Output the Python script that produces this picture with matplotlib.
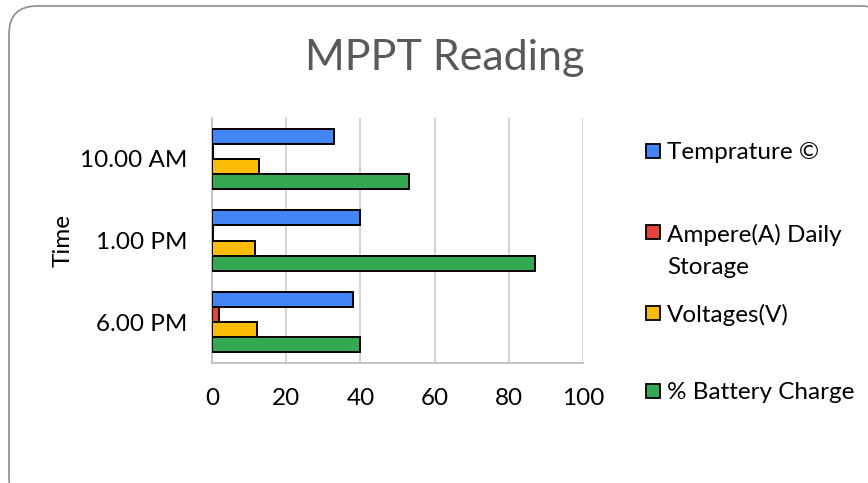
import numpy as np
import matplotlib.pyplot as plt
from matplotlib.patches import FancyBboxPatch, Rectangle

plt.rcParams['font.family'] = ['Lato', 'DejaVu Sans']

times = ['10.00 AM', '1.00 PM', '6.00 PM']
temperature = [33, 40, 38]
ampere = [0.2, 0.3, 1.9]
voltage = [12.7, 11.6, 12.2]
battery = [53, 87, 40]

labels = ['Temprature ©', 'Ampere(A) Daily\nStorage', 'Voltages(V)', '% Battery Charge']
colors = ['#4285F4', '#EA4335', '#FBBC04', '#34A853']

W, H = 868, 483
fig = plt.figure(figsize=(W / 100, H / 100), dpi=100)

# background axes in pixel units, used for the rounded frame
bg = fig.add_axes([0, 0, 1, 1], zorder=-1)
bg.set_xlim(0, W)
bg.set_ylim(H, 0)
bg.axis('off')
bg.add_patch(FancyBboxPatch((9, 6), 880, 500,
                            boxstyle='round,pad=0,rounding_size=28',
                            facecolor='white', edgecolor='#8c8c8c', linewidth=1.2))

ax = fig.add_axes([212 / W, 1 - 363 / H, 371 / W, 245 / H])
ax.set_facecolor('none')

y = np.arange(len(times))[::-1]
h = 0.184
series = [temperature, ampere, voltage, battery]
offsets = [1.5, 0.5, -0.5, -1.5]
for vals, off, c in zip(series, offsets, colors):
    ax.barh(y + off * h, vals, height=h, color=c, edgecolor='black', linewidth=1.4, zorder=3)

fs = 17.5
ax.set_xlim(0, 100)
ax.set_ylim(-0.5, 2.5)
ax.set_xticks([0, 20, 40, 60, 80, 100])
ax.set_yticks(y)
ax.set_yticklabels(times)
ax.tick_params(length=0, labelsize=fs, colors='black')
ax.tick_params(axis='x', pad=18)
ax.tick_params(axis='y', pad=18)
ax.grid(axis='x', color='#d0d0d0', linewidth=1.3, zorder=0)
for s in ['top', 'right']:
    ax.spines[s].set_visible(False)
for s in ['left', 'bottom']:
    ax.spines[s].set_color('#bfbfbf')
    ax.spines[s].set_linewidth(1.3)
ax.set_ylabel('Time', fontsize=fs, labelpad=4)

fig.text(445 / W, 1 - 58 / H, 'MPPT Reading', ha='center', va='center',
         fontsize=31, color='#595959')

# legend drawn by hand to match the uneven spacing
leg_y = [150.5, 232.5, 312.5, 390.5]
for lab, c, ly in zip(labels, colors, leg_y):
    fig.patches.append(Rectangle((646 / W, 1 - (ly + 7) / H), 14 / W, 14 / H,
                                 transform=fig.transFigure, facecolor=c,
                                 edgecolor='black', linewidth=1.3))
    for i, line in enumerate(lab.split('\n')):
        fig.text(667 / W, 1 - (ly + 2 + 33 * i) / H, line, ha='left', va='center',
                 fontsize=fs)

fig.savefig('out.png', dpi=100)
